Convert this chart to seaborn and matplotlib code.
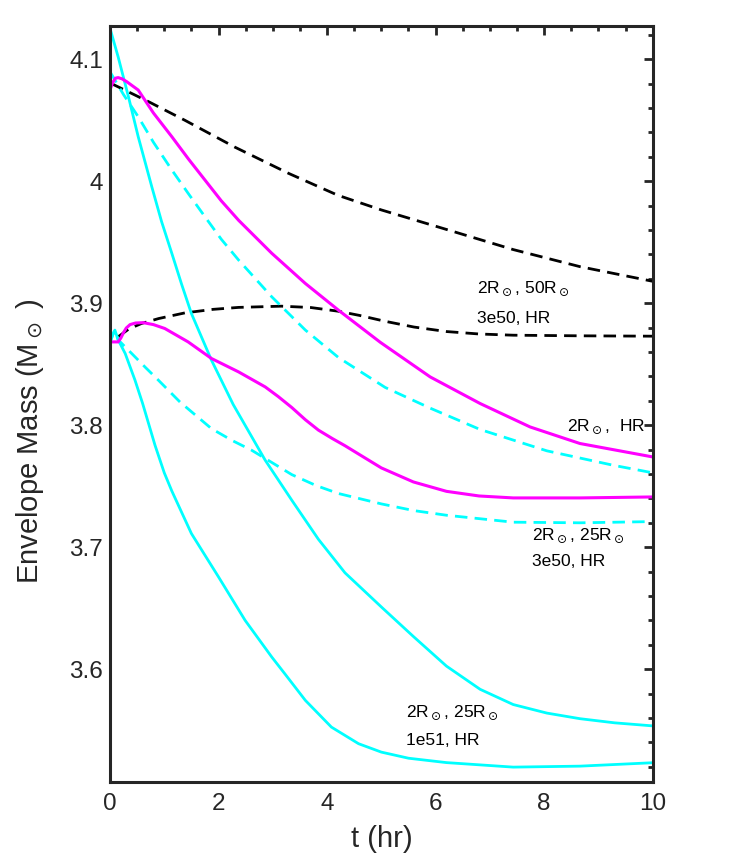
import matplotlib
matplotlib.use("Agg")
import matplotlib.pyplot as plt
from matplotlib.ticker import MultipleLocator
import seaborn as sns
import pandas as pd

# ---- data ----
black_up_t = [0.03, 0.7, 1.38, 2.3, 3.29, 4.2, 5.0, 6.2, 7.43, 8.66, 10]
black_up_M = [4.080, 4.0655, 4.0500, 4.0280, 4.0065, 3.9885, 3.9765, 3.9605, 3.9440, 3.9300, 3.918]

black_low_t = [0.15, 0.35, 0.58, 0.9, 1.38, 1.9, 2.37, 3.16, 3.7, 4.2, 4.6, 5.07, 5.6, 6.2, 6.8, 7.43, 8.66, 10]
black_low_M = [3.8725, 3.8790, 3.8834, 3.8875, 3.8921, 3.8950, 3.8966, 3.8976, 3.8965, 3.8935, 3.8900,
               3.8852, 3.8805, 3.8768, 3.8748, 3.8738, 3.8733, 3.873]

mag_up_t = [0, 0.05, 0.1, 0.15, 0.22, 0.31, 0.52, 0.8, 1.14, 1.45, 1.75, 2.05, 2.37, 2.98, 3.6, 4.21,
            4.98, 5.9, 6.82, 7.74, 8.66, 10]
mag_up_M = [4.075, 4.081, 4.0845, 4.085, 4.084, 4.0816, 4.0748, 4.0560, 4.0365, 4.0180, 4.001, 3.9840,
            3.968, 3.941, 3.9162, 3.8943, 3.868, 3.8396, 3.8178, 3.7986, 3.785, 3.774]

mag_low_t = [0, 0.15, 0.2, 0.25, 0.3, 0.37, 0.47, 0.61, 0.8, 1.01, 1.44, 1.87, 2.37, 2.86, 3.1, 3.35,
             3.6, 3.84, 4.1, 4.33, 4.65, 5.0, 5.59, 6.2, 6.8, 7.43, 8.66, 10]
mag_low_M = [3.8683, 3.8683, 3.8715, 3.876, 3.8797, 3.8825, 3.8838, 3.8841, 3.8825, 3.8793, 3.8683,
             3.8547, 3.8437, 3.8314, 3.8235, 3.8145, 3.8045, 3.7960, 3.7890, 3.7832, 3.7745, 3.7650,
             3.7535, 3.7458, 3.7420, 3.7404, 3.7404, 3.7412]

cyan_dash_up_t = [0, 0.25, 0.52, 0.8, 1.14, 1.45, 1.75, 2.05, 2.37, 2.98, 3.6, 4.21, 5.07, 5.9, 6.82,
                  8.05, 9.27, 10]
cyan_dash_up_M = [4.0898, 4.0710, 4.0529, 4.0320, 4.0092, 3.9895, 3.9709, 3.9525, 3.9354, 3.9053,
                  3.878, 3.8555, 3.8310, 3.8140, 3.7965, 3.7790, 3.7672, 3.761]

cyan_dash_low_t = [0, 0.05, 0.09, 0.15, 0.4, 0.65, 0.89, 1.29, 1.87, 2.25, 2.61, 3.35, 3.8, 4.21, 5.0,
                   5.6, 6.2, 7.43, 8.66, 10]
cyan_dash_low_M = [3.868, 3.874, 3.878, 3.870, 3.8588, 3.8475, 3.837, 3.819, 3.7972, 3.7875, 3.7795,
                   3.7595, 3.7505, 3.7440, 3.7355, 3.7300, 3.7262, 3.7205, 3.7200, 3.7210]

cyan_sol_up_t = [0, 0.15, 0.34, 0.52, 0.77, 0.95, 1.14, 1.32, 1.5, 1.87, 2.27, 2.86, 3.35, 3.84, 4.33,
                 5.0, 5.59, 6.2, 6.82, 7.43, 8.05, 8.66, 9.3, 10]
cyan_sol_up_M = [4.1254, 4.102, 4.0693, 4.0365, 3.9955, 3.9670, 3.9408, 3.9155, 3.8916, 3.8533,
                 3.817, 3.7713, 3.7385, 3.7065, 3.6790, 3.6510, 3.6268, 3.6025, 3.5835, 3.5710,
                 3.5640, 3.5594, 3.5560, 3.5535]

cyan_sol_low_t = [0, 0.05, 0.09, 0.15, 0.28, 0.46, 0.6, 0.83, 1.0, 1.14, 1.5, 2.0, 2.49, 2.98, 3.22,
                  3.6, 4.08, 4.58, 5.0, 5.5, 6.2, 7.43, 8.66, 10]
cyan_sol_low_M = [3.868, 3.874, 3.878, 3.870, 3.8588, 3.837, 3.818, 3.7835, 3.7610, 3.746, 3.7112,
                  3.6756, 3.64, 3.61, 3.5963, 3.5744, 3.5525, 3.5389, 3.5320, 3.5270, 3.5234,
                  3.5197, 3.5205, 3.5233]

annot_texts = [
    r"2R$_\odot$, 50R$_\odot$", "3e50, HR",
    r"2R$_\odot$,  HR",
    r"2R$_\odot$, 25R$_\odot$", "3e50, HR",
    r"2R$_\odot$, 25R$_\odot$", "1e51, HR",
]
annot_t = [6.76, 6.76, 8.415, 7.77, 7.77, 5.454, 5.454]
annot_M = [3.9083, 3.8837, 3.7953, 3.7057, 3.6846, 3.5607, 3.5375]

x_label = "t (hr)"
y_label = r"Envelope Mass (M$_\odot$ )"

# ---- style ----
sns.set_theme(style="white")
plt.rcParams["font.family"] = ["Liberation Sans", "DejaVu Sans"]
plt.rcParams["mathtext.fontset"] = "dejavusans"

fig = plt.figure(figsize=(7.41, 8.55), dpi=100)
ax = fig.add_axes([110 / 741, 73 / 855, 542.7 / 741, 756 / 855])

series = [
    (black_up_t, black_up_M, "black", True, 2.0),
    (black_low_t, black_low_M, "black", True, 2.0),
    (cyan_dash_up_t, cyan_dash_up_M, "#00FFFF", True, 2.0),
    (cyan_dash_low_t, cyan_dash_low_M, "#00FFFF", True, 2.0),
    (cyan_sol_up_t, cyan_sol_up_M, "#00FFFF", False, 2.0),
    (cyan_sol_low_t, cyan_sol_low_M, "#00FFFF", False, 2.0),
    (mag_up_t, mag_up_M, "#FF00FF", False, 2.2),
    (mag_low_t, mag_low_M, "#FF00FF", False, 2.2),
]
for t, m, c, dashed, lw in series:
    df = pd.DataFrame({"t": t, "M": m})
    sns.lineplot(data=df, x="t", y="M", ax=ax, color=c, linewidth=lw,
                 sort=False, estimator=None)
    line = ax.get_lines()[-1]
    line.set_solid_joinstyle("round")
    line.set_dash_joinstyle("round")
    if dashed:
        line.set_dashes((4.5, 2.6))

for txt, tx, my in zip(annot_texts, annot_t, annot_M):
    ax.text(tx, my, txt, fontsize=12.5, color="black", ha="left", va="baseline")

ax.set_xlim(0, 10)
ax.set_ylim(3.5075, 4.1273)
ax.xaxis.set_minor_locator(MultipleLocator(0.5))
ax.yaxis.set_minor_locator(MultipleLocator(0.02))
ax.set_yticks([3.6, 3.7, 3.8, 3.9, 4.0, 4.1])
ax.set_yticklabels(["3.6", "3.7", "3.8", "3.9", "4", "4.1"])
ax.set_xticks([0, 2, 4, 6, 8, 10])
ax.set_xticklabels(["0", "2", "4", "6", "8", "10"])

ax.tick_params(which="both", direction="in", top=True, right=True, colors="#262626",
               labelcolor="#262626", width=2.0)
ax.tick_params(which="major", length=6.5, labelsize=17.5)
ax.tick_params(which="minor", length=3.8)
ax.tick_params(axis="x", which="major", pad=8)
ax.tick_params(axis="y", which="major", pad=5)
for sp in ax.spines.values():
    sp.set_linewidth(2.2)
    sp.set_color("#262626")
    sp.set_visible(True)

ax.set_xlabel(x_label, fontsize=21, color="#262626", labelpad=7)
ax.set_ylabel(y_label, fontsize=21, color="#262626")
ax.yaxis.set_label_coords(-0.118, 0.45)

fig.savefig("out.png", dpi=100)
